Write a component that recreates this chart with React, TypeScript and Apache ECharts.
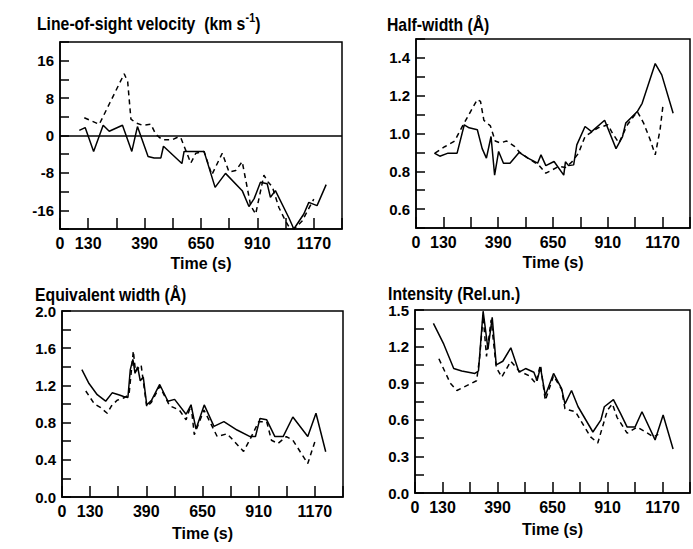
import React, { useEffect, useRef } from "react";
import * as echarts from "echarts";

const FONT = "'Liberation Sans', Arial, Helvetica, sans-serif";

type Pt = [number, number];

// Time axis (s)
const timeMax = 1300;
const timeStep = 130;
const timeLabels = [0, 130, 390, 650, 910, 1170];

// Line-of-sight velocity (km/s)
const velocityLabels = [-16, -8, 0, 8, 16];
const velocitySolid: Pt[] = [
  [89, 1.1], [116, 1.7], [155, -3.4], [199, 2.2], [227, 0.9], [288, 2.2], [331, -3.4],
  [357, 1.9], [406, -4.5], [434, -4.8], [465, -4.8], [477, -2.3], [562, -6.0], [572, -3.4],
  [664, -3.4], [715, -11.1], [763, -8.1], [840, -11.8], [871, -15.2], [895, -13.5],
  [924, -10.0], [955, -10.3], [970, -13.2], [993, -11.8], [1055, -17.6], [1078, -20.0],
  [1124, -16.8], [1147, -14.3], [1185, -15.0], [1227, -10.5],
];
const velocityDashed: Pt[] = [
  [112, 3.8], [181, 2.4], [230, 7.0], [296, 13.2], [312, 11.5], [327, 3.5], [350, 2.7],
  [380, 2.2], [419, 2.4], [442, 0.2], [472, -0.9], [518, -0.9], [545, -0.3], [557, -0.5],
  [603, -5.9], [626, -3.8], [664, -3.4], [700, -8.4], [748, -3.8], [779, -7.8], [810, -7.5],
  [840, -5.6], [879, -15.0], [902, -16.8], [940, -8.5], [960, -10.0], [979, -11.0],
  [1009, -15.4], [1040, -18.3], [1056, -19.6], [1080, -20.0], [1116, -18.3], [1170, -13.6],
];

// Half-width (Å)
const halfWidthLabels = [0.6, 0.8, 1.0, 1.2, 1.4];
const halfWidthSolid: Pt[] = [
  [87, 0.896], [113, 0.88], [152, 0.896], [195, 0.896], [229, 1.046], [252, 1.03], [291, 1.02],
  [314, 0.92], [334, 0.87], [356, 0.984], [373, 0.78], [392, 0.905], [415, 0.843], [446, 0.843],
  [489, 0.9], [531, 0.87], [577, 0.843], [593, 0.887], [616, 0.83], [655, 0.852], [701, 0.78],
  [709, 0.85], [724, 0.83], [748, 0.834], [763, 0.94], [802, 1.037], [833, 1.01], [895, 1.07],
  [949, 0.92], [980, 0.984], [995, 1.055], [1050, 1.116], [1073, 1.16], [1135, 1.37],
  [1166, 1.31], [1220, 1.107],
];
const halfWidthDashed: Pt[] = [
  [90, 0.896], [136, 0.93], [183, 0.96], [221, 1.04], [291, 1.18], [306, 1.17], [322, 1.07],
  [353, 1.04], [376, 0.96], [399, 0.95], [430, 0.96], [469, 0.93], [492, 0.9], [531, 0.87],
  [585, 0.83], [616, 0.79], [678, 0.826], [709, 0.82], [740, 0.85], [771, 0.896], [802, 0.984],
  [864, 1.03], [910, 1.046], [933, 1.0], [963, 0.95], [1003, 1.046], [1050, 1.116],
  [1080, 1.055], [1111, 0.967], [1135, 0.887], [1158, 1.02], [1173, 1.16],
];

// Equivalent width (Å)
const eqWidthLabels = [0, 0.4, 0.8, 1.2, 1.6, 2.0];
const eqWidthSolid: Pt[] = [
  [92, 1.37], [125, 1.22], [163, 1.1], [202, 1.03], [232, 1.12], [262, 1.1], [285, 1.08],
  [305, 1.07], [316, 1.37], [328, 1.48], [338, 1.33], [350, 1.4], [362, 1.25], [376, 1.29],
  [392, 0.99], [414, 1.04], [452, 1.21], [490, 1.03], [521, 1.05], [574, 0.89], [597, 0.99],
  [620, 0.73], [658, 0.99], [703, 0.76], [749, 0.81], [810, 0.72], [870, 0.65], [895, 0.65],
  [916, 0.845], [947, 0.83], [985, 0.65], [1023, 0.65], [1068, 0.86], [1137, 0.65],
  [1175, 0.9], [1220, 0.486],
];
const eqWidthDashed: Pt[] = [
  [110, 1.14], [150, 1.0], [179, 0.96], [209, 0.9], [229, 0.98], [255, 1.04], [290, 1.07],
  [310, 1.1], [330, 1.57], [340, 1.35], [366, 1.42], [392, 0.97], [414, 1.02], [452, 1.19],
  [498, 0.98], [543, 0.935], [574, 0.83], [597, 0.99], [612, 0.67], [657, 0.935], [718, 0.65],
  [764, 0.68], [840, 0.49], [870, 0.62], [910, 0.81], [947, 0.81], [969, 0.61], [999, 0.575],
  [1038, 0.65], [1068, 0.61], [1137, 0.36], [1175, 0.63],
];

// Intensity (relative units)
const intensityLabels = [0, 0.3, 0.6, 0.9, 1.2, 1.5];
const intensitySolid: Pt[] = [
  [87, 1.39], [136, 1.22], [183, 1.02], [221, 1.0], [283, 0.98], [300, 1.0], [322, 1.49],
  [345, 1.18], [365, 1.44], [384, 1.05], [415, 1.08], [453, 1.19], [492, 0.99], [523, 1.02],
  [562, 0.99], [577, 0.92], [593, 1.03], [616, 0.8], [655, 0.98], [693, 0.856], [709, 0.73],
  [740, 0.84], [771, 0.707], [841, 0.5], [879, 0.6], [895, 0.707], [938, 0.766], [972, 0.65],
  [1003, 0.54], [1040, 0.54], [1073, 0.666], [1135, 0.435], [1173, 0.64], [1220, 0.36],
];
const intensityDashed: Pt[] = [
  [113, 1.1], [167, 0.9], [198, 0.84], [291, 0.92], [305, 1.1], [322, 1.45], [338, 1.12],
  [360, 1.42], [384, 1.03], [410, 0.95], [453, 1.08], [492, 1.0], [540, 0.96], [570, 0.9],
  [593, 1.05], [616, 0.76], [655, 0.96], [693, 0.85], [709, 0.69], [759, 0.665], [830, 0.46],
  [864, 0.41], [910, 0.68], [933, 0.73], [955, 0.62], [1003, 0.49], [1050, 0.54], [1090, 0.5],
  [1127, 0.46], [1150, 0.48],
];

interface PanelSpec {
  box: { left: number; top: number; width: number; height: number };
  yMin: number;
  yMax: number;
  yStep: number;
  yLabels: number[];
  decimals: number;
  solid: Pt[];
  dashed: Pt[];
  zeroLine?: boolean;
}

const panels: PanelSpec[] = [
  {
    box: { left: 60, top: 42, width: 282, height: 187 },
    yMin: -20, yMax: 20, yStep: 4, yLabels: velocityLabels, decimals: 0,
    solid: velocitySolid, dashed: velocityDashed, zeroLine: true,
  },
  {
    box: { left: 416, top: 39, width: 282, height: 189 },
    yMin: 0.5, yMax: 1.5, yStep: 0.1, yLabels: halfWidthLabels, decimals: 1,
    solid: halfWidthSolid, dashed: halfWidthDashed,
  },
  {
    box: { left: 62, top: 311, width: 281, height: 186 },
    yMin: 0, yMax: 2, yStep: 0.2, yLabels: eqWidthLabels, decimals: 1,
    solid: eqWidthSolid, dashed: eqWidthDashed,
  },
  {
    box: { left: 415, top: 310, width: 282, height: 183 },
    yMin: 0, yMax: 1.5, yStep: 0.15, yLabels: intensityLabels, decimals: 1,
    solid: intensitySolid, dashed: intensityDashed,
  },
];

const labelIn = (list: number[], v: number) => list.some((t) => Math.abs(t - v) < 1e-6);

const boldText = (size: number) => ({
  color: "#000",
  fontFamily: FONT,
  fontWeight: "bold" as const,
  fontSize: size,
});

function buildOption(): echarts.EChartsOption {
  const ink = { color: "#000", width: 1.5 };

  const grid = panels.map((p) => ({
    ...p.box,
    show: true,
    borderColor: "#000",
    borderWidth: 1.5,
    backgroundColor: "transparent",
  }));

  const xAxis = panels.map((_, i) => ({
    gridIndex: i,
    type: "value" as const,
    min: 0,
    max: timeMax,
    interval: timeStep,
    axisLine: { show: true, onZero: false, lineStyle: ink },
    axisTick: { show: true, inside: true, length: 11, lineStyle: ink },
    splitLine: { show: false },
    axisLabel: {
      ...boldText(16),
      margin: 6,
      showMinLabel: true,
      showMaxLabel: true,
      formatter: (v: number) => (labelIn(timeLabels, v) ? String(v) : ""),
    },
    name: "Time (s)",
    nameLocation: "middle" as const,
    nameGap: i < 2 ? 26 : 28,
    nameTextStyle: boldText(16),
  }));

  const yAxis = panels.map((p, i) => ({
    gridIndex: i,
    type: "value" as const,
    min: p.yMin,
    max: p.yMax,
    interval: p.yStep,
    axisLine: { show: true, onZero: false, lineStyle: ink },
    axisTick: { show: true, inside: true, length: 9, lineStyle: ink },
    splitLine: { show: false },
    axisLabel: {
      ...boldText(15),
      margin: 6,
      showMinLabel: true,
      showMaxLabel: true,
      formatter: (v: number) => (labelIn(p.yLabels, v) ? v.toFixed(p.decimals) : ""),
    },
  }));

  const series: any[] = [];
  panels.forEach((p, i) => {
    series.push({
      type: "line",
      xAxisIndex: i,
      yAxisIndex: i,
      data: p.solid,
      showSymbol: false,
      symbol: "none",
      lineStyle: { color: "#000", width: 1.5, type: "solid" },
      markLine: p.zeroLine
        ? {
            silent: true,
            symbol: ["none", "none"],
            label: { show: false },
            lineStyle: { color: "#000", width: 1.5, type: "solid" },
            data: [{ yAxis: 0 }],
          }
        : undefined,
    });
    series.push({
      type: "line",
      xAxisIndex: i,
      yAxisIndex: i,
      data: p.dashed,
      showSymbol: false,
      symbol: "none",
      lineStyle: { color: "#000", width: 1.5, type: [5, 4] },
    });
  });

  // Panel headings, set in a narrowed bold face
  const narrow = 0.83;
  const titleStyle = { ...boldText(19), fill: "#000", verticalAlign: "top" };
  const graphic: any[] = [
    {
      type: "text",
      x: 37,
      y: 11,
      scaleX: narrow,
      style: {
        text: "{a|Line-of-sight velocity  (km s}{s|-1}{a|)}",
        fill: "#000",
        verticalAlign: "top",
        rich: {
          a: { ...boldText(19), fill: "#000", lineHeight: 24, height: 24, verticalAlign: "bottom" },
          s: { ...boldText(13), fill: "#000", lineHeight: 14, height: 14, verticalAlign: "top" },
        },
      },
    },
    { type: "text", x: 387, y: 15, scaleX: narrow, style: { ...titleStyle, text: "Half-width (Å)" } },
    { type: "text", x: 35, y: 285, scaleX: narrow, style: { ...titleStyle, text: "Equivalent width (Å)" } },
    { type: "text", x: 388, y: 284, scaleX: narrow, style: { ...titleStyle, text: "Intensity (Rel.un.)" } },
  ];

  return {
    animation: false,
    backgroundColor: "#fff",
    grid,
    xAxis,
    yAxis,
    series,
    graphic,
  } as echarts.EChartsOption;
}

export default function App() {
  const ref = useRef<HTMLDivElement>(null);

  useEffect(() => {
    if (!ref.current) return;
    const chart = echarts.init(ref.current, undefined, { renderer: "svg" });
    chart.setOption(buildOption());
    return () => chart.dispose();
  }, []);

  return (
    <div
      ref={ref}
      style={{ position: "fixed", left: 0, top: 0, width: 693, height: 549, background: "#fff" }}
    />
  );
}
